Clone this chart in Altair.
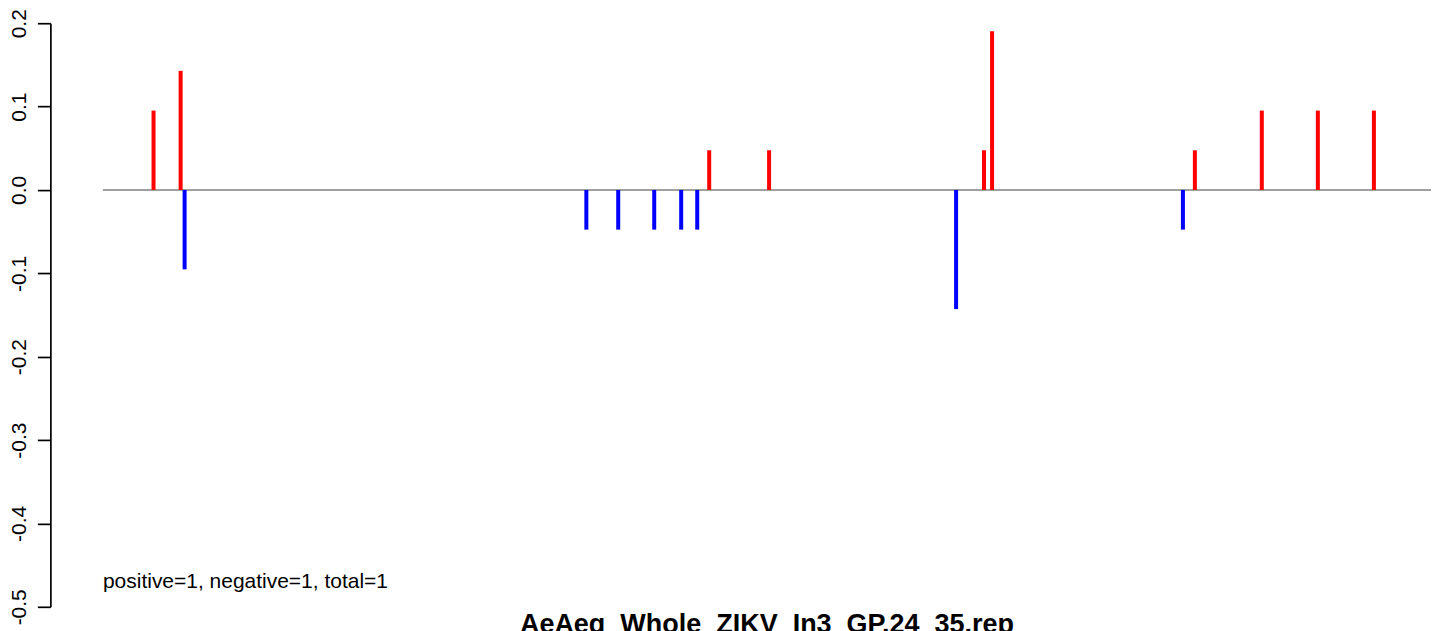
import altair as alt
import pandas as pd

# positions along the sequence (arbitrary 0-1000 units) and their scores
positions = [38.1, 58.5, 61.5, 364.0, 388.0, 415.1, 435.4, 447.5, 456.5,
             501.6, 642.4, 663.4, 669.5, 813.2, 822.2, 872.6, 914.8, 957.0]
scores = [0.0952, 0.1429, -0.0952, -0.0476, -0.0476, -0.0476, -0.0476, -0.0476, 0.0476,
          0.0476, -0.1429, 0.0476, 0.1905, -0.0476, 0.0476, 0.0952, 0.0952, 0.0952]

x_domain = [0, 1000]
y_domain = [-0.5, 0.2]
y_ticks = [-0.5, -0.4, -0.3, -0.2, -0.1, 0.0, 0.1, 0.2]

title_text = "AeAeg_Whole_ZIKV_In3_GP.24_35.rep"
note_text = "positive=1, negative=1, total=1"
note_y = -0.477

bars = pd.DataFrame({
    "pos": positions,
    "score": scores,
    "base": [0.0] * len(scores),
    "dir": ["up" if s > 0 else "down" for s in scores],
})
baseline = pd.DataFrame({"x": [x_domain[0]], "x2": [x_domain[1]], "y": [0.0]})
note = pd.DataFrame({"x": [x_domain[0]], "y": [note_y], "label": [note_text]})

FONT = "Liberation Sans"

x_scale = alt.Scale(domain=x_domain, nice=False, zero=False)
y_scale = alt.Scale(domain=y_domain, nice=False, zero=False)
y_axis = alt.Axis(
    values=y_ticks,
    labelExpr="replace(format(datum.value, '.1f'), '\u2212', '-')",
    labelAngle=270, labelAlign="center", labelBaseline="alphabetic",
    labelFont=FONT, labelFontSize=21, labelColor="black",
    labelPadding=12, labelFlush=False, labelOverlap=False,
    tickSize=13, tickColor="black", tickWidth=1.7,
    domainColor="black", domainWidth=1.7,
    offset=52.6, grid=False, title=None,
)

line = alt.Chart(baseline).mark_rule(color="#a0a0a0", strokeWidth=2).encode(
    x=alt.X("x:Q", scale=x_scale, axis=None),
    x2="x2:Q",
    y=alt.Y("y:Q", scale=y_scale, axis=y_axis),
)

sticks = alt.Chart(bars).mark_rule(strokeWidth=4, strokeCap="butt").encode(
    x=alt.X("pos:Q", scale=x_scale, axis=None),
    y=alt.Y("base:Q", scale=y_scale, axis=y_axis),
    y2="score:Q",
    color=alt.Color("dir:N", scale=alt.Scale(domain=["up", "down"], range=["#FF0000", "#0000FF"]), legend=None),
)

label = alt.Chart(note).mark_text(align="left", baseline="alphabetic", font=FONT, fontSize=21, color="black").encode(
    x=alt.X("x:Q", scale=x_scale, axis=None),
    y=alt.Y("y:Q", scale=y_scale, axis=y_axis),
    text="label:N",
)

chart = alt.layer(line, sticks, label).properties(
    width=1329,
    height=584,
    autosize=alt.AutoSizeParams(type="none"),
    padding={"left": 95, "top": 15, "right": 5, "bottom": 40},
    title=alt.TitleParams(
        text=title_text, orient="bottom", anchor="middle", frame="group",
        font=FONT, fontSize=27, fontWeight="bold", color="black",
        offset=-13, baseline="top",
    ),
    background="white",
).configure_view(stroke=None)

chart.save("out.html", embed_options={"renderer": "svg", "actions": False})
